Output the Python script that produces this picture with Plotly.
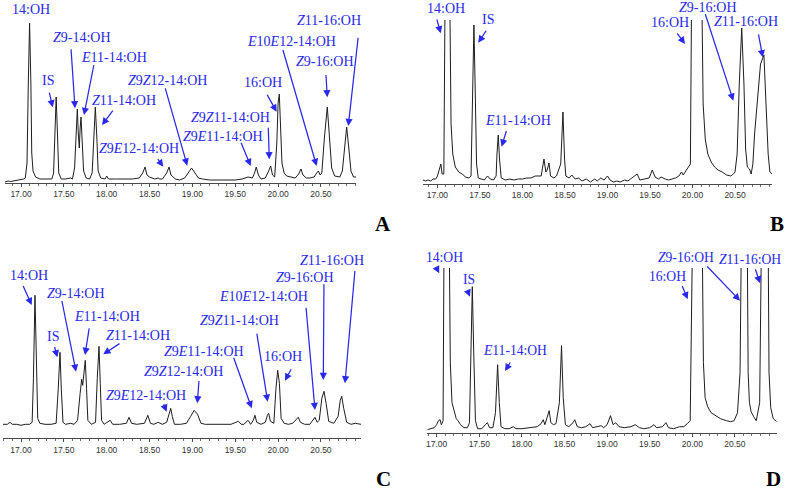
import plotly.graph_objects as go

W, H = 787, 490

# ---------------- data: chromatogram traces (retention time [min], detector signal) ----------------
a_trace = [
    (16.81, 1), (16.85, 2), (16.88, 1.5), (16.92, 2), (16.96, 3), (17.00, 3), (17.03, 4), (17.05, 5),
    (17.07, 20), (17.085, 100), (17.10, 160), (17.115, 100), (17.125, 30), (17.14, 12), (17.17, 6),
    (17.22, 4), (17.30, 4), (17.36, 4), (17.38, 10), (17.395, 60), (17.41, 86), (17.425, 50),
    (17.44, 10), (17.47, 4), (17.52, 4), (17.58, 5), (17.60, 4), (17.625, 15), (17.645, 60),
    (17.657, 74), (17.668, 50), (17.68, 35), (17.69, 55), (17.70, 66), (17.712, 45), (17.73, 12),
    (17.76, 5), (17.80, 4), (17.83, 10), (17.85, 55), (17.867, 76), (17.885, 45), (17.90, 12),
    (17.93, 5), (17.98, 4), (18.00, 7), (18.02, 4), (18.10, 4), (18.20, 4), (18.30, 4), (18.38, 5),
    (18.42, 10), (18.447, 16), (18.47, 8), (18.50, 6), (18.53, 5), (18.56, 4), (18.60, 5), (18.62, 4),
    (18.65, 4), (18.70, 10), (18.727, 16), (18.75, 8), (18.80, 4), (18.85, 3), (18.91, 5), (18.94, 9),
    (18.99, 15), (19.03, 10), (19.07, 5), (19.12, 4), (19.20, 3), (19.30, 3), (19.40, 3), (19.50, 3),
    (19.58, 4), (19.65, 6), (19.70, 5), (19.725, 10), (19.745, 16), (19.77, 8), (19.80, 4), (19.85, 5),
    (19.89, 12), (19.913, 17), (19.935, 8), (19.96, 6), (19.985, 40), (20.00, 80), (20.014, 89),
    (20.03, 55), (20.045, 20), (20.07, 10), (20.10, 7), (20.15, 6), (20.20, 5), (20.24, 9),
    (20.267, 14), (20.29, 8), (20.33, 5), (20.37, 5), (20.42, 6), (20.45, 10), (20.47, 12), (20.49, 8),
    (20.51, 10), (20.54, 45), (20.574, 76), (20.60, 45), (20.625, 15), (20.66, 7), (20.72, 6),
    (20.75, 12), (20.78, 40), (20.80, 56), (20.825, 35), (20.85, 12), (20.88, 6), (20.909, 6),
]

b_trace = [
    (16.83, 4), (16.86, 3), (16.89, 4), (16.92, 3), (16.95, 5), (16.98, 5), (17.00, 8), (17.025, 16),
    (17.04, 20), (17.055, 10), (17.075, 10), (17.088, 170), (17.117, 400), (17.147, 170), (17.16, 60),
    (17.18, 30), (17.21, 17), (17.25, 12), (17.29, 10), (17.33, 7), (17.37, 6), (17.395, 8),
    (17.41, 80), (17.429, 159), (17.445, 90), (17.46, 20), (17.48, 6), (17.52, 5), (17.55, 4),
    (17.59, 8), (17.62, 5), (17.66, 4), (17.69, 8), (17.70, 30), (17.715, 49), (17.73, 25),
    (17.75, 6), (17.80, 4), (17.85, 5), (17.90, 4), (17.95, 5), (18.00, 5), (18.05, 6), (18.10, 6),
    (18.15, 8), (18.22, 8), (18.253, 25), (18.275, 12), (18.29, 14), (18.312, 21), (18.33, 8),
    (18.37, 6), (18.40, 8), (18.45, 20), (18.476, 72), (18.495, 25), (18.51, 8), (18.55, 6),
    (18.58, 9), (18.62, 5), (18.66, 6), (18.70, 3), (18.75, 5), (18.80, 2), (18.85, 5), (18.88, 3),
    (18.92, 6), (18.96, 4), (19.00, 8), (19.03, 4), (19.07, 2), (19.11, 3), (19.15, 2), (19.20, 4),
    (19.24, 3), (19.27, 5), (19.35, 10), (19.38, 4), (19.42, 5), (19.49, 6), (19.527, 14),
    (19.56, 7), (19.60, 5), (19.63, 7), (19.68, 5), (19.72, 4), (19.76, 5), (19.80, 6), (19.84, 8),
    (19.87, 12), (19.89, 9), (19.975, 20), (19.99, 200), (20.05, 500), (20.108, 200), (20.125, 80),
    (20.15, 45), (20.18, 30), (20.22, 22), (20.26, 17), (20.30, 14), (20.35, 12), (20.40, 9),
    (20.45, 8), (20.48, 10), (20.50, 12), (20.525, 30), (20.55, 100), (20.579, 156), (20.605, 100),
    (20.625, 35), (20.645, 17), (20.67, 15), (20.69, 10), (20.71, 20), (20.73, 50), (20.77, 90),
    (20.80, 120), (20.84, 129), (20.865, 80), (20.89, 30), (20.91, 12), (20.935, 10),
]

c_trace = [
    (16.79, 14), (16.84, 14), (16.87, 16), (16.90, 14), (16.95, 14), (17.00, 13), (17.05, 14),
    (17.10, 14), (17.13, 16), (17.145, 60), (17.163, 143), (17.18, 70), (17.195, 20), (17.22, 15),
    (17.28, 14), (17.35, 14), (17.41, 15), (17.435, 50), (17.455, 86), (17.47, 50), (17.49, 16),
    (17.52, 14), (17.58, 15), (17.62, 14), (17.66, 18), (17.69, 45), (17.708, 59), (17.72, 53),
    (17.735, 70), (17.75, 78), (17.765, 50), (17.78, 18), (17.82, 14), (17.87, 16), (17.89, 60),
    (17.91, 92), (17.925, 55), (17.94, 18), (17.97, 14), (18.04, 18), (18.07, 14), (18.15, 14),
    (18.23, 15), (18.26, 21), (18.29, 15), (18.35, 14), (18.44, 15), (18.48, 23), (18.51, 15),
    (18.55, 14), (18.60, 16), (18.65, 14), (18.70, 16), (18.73, 26), (18.747, 30), (18.765, 22),
    (18.79, 14), (18.86, 14), (18.93, 15), (18.98, 22), (19.02, 28), (19.06, 24), (19.10, 15),
    (19.15, 14), (19.25, 14), (19.35, 14), (19.45, 14), (19.535, 17), (19.57, 14), (19.60, 14),
    (19.65, 18), (19.68, 14), (19.71, 18), (19.73, 23), (19.75, 16), (19.80, 14), (19.85, 16),
    (19.875, 23), (19.89, 25), (19.91, 17), (19.95, 15), (19.975, 50), (19.995, 68), (20.015, 55),
    (20.035, 20), (20.07, 15), (20.12, 14), (20.17, 15), (20.21, 19), (20.235, 21), (20.26, 16),
    (20.31, 14), (20.37, 14), (20.41, 19), (20.43, 21), (20.455, 16), (20.48, 18), (20.51, 40),
    (20.535, 47), (20.56, 35), (20.59, 17), (20.65, 15), (20.70, 22), (20.725, 38), (20.742, 42),
    (20.765, 30), (20.80, 16), (20.85, 14), (20.90, 15), (20.967, 14),
]

d_trace = [
    (16.89, 3), (16.93, 4), (16.97, 5), (17.00, 8), (17.02, 12), (17.04, 13), (17.055, 8),
    (17.075, 12), (17.09, 250), (17.117, 500), (17.145, 250), (17.16, 70), (17.18, 30), (17.21, 19),
    (17.23, 14), (17.25, 12), (17.28, 8), (17.32, 5), (17.36, 5), (17.385, 10), (17.40, 80),
    (17.418, 146), (17.435, 80), (17.455, 12), (17.48, 4), (17.53, 4), (17.57, 8), (17.595, 10),
    (17.62, 5), (17.66, 5), (17.69, 20), (17.715, 68), (17.735, 30), (17.755, 6), (17.80, 4),
    (17.85, 4), (17.90, 6), (17.93, 4), (18.00, 4), (18.10, 5), (18.18, 6), (18.225, 9), (18.25, 13),
    (18.27, 8), (18.30, 16), (18.32, 22), (18.34, 10), (18.37, 8), (18.40, 9), (18.44, 30),
    (18.465, 87), (18.485, 35), (18.51, 8), (18.55, 6), (18.60, 10), (18.62, 13), (18.65, 6),
    (18.70, 5), (18.75, 6), (18.80, 9), (18.83, 5), (18.88, 6), (18.93, 7), (18.96, 5), (19.00, 8),
    (19.04, 17), (19.07, 8), (19.10, 10), (19.14, 6), (19.20, 5), (19.28, 6), (19.33, 8), (19.38, 5),
    (19.43, 4), (19.50, 5), (19.55, 8), (19.58, 5), (19.65, 6), (19.69, 10), (19.72, 5), (19.78, 4),
    (19.85, 6), (19.90, 6), (19.94, 9), (19.975, 12), (20.01, 250), (20.06, 500), (20.11, 250),
    (20.13, 70), (20.15, 35), (20.18, 26), (20.22, 20), (20.27, 17), (20.33, 14), (20.40, 12),
    (20.45, 11), (20.49, 12), (20.53, 20), (20.56, 60), (20.58, 250), (20.61, 500), (20.64, 250),
    (20.655, 60), (20.67, 30), (20.69, 21), (20.72, 16), (20.75, 12), (20.79, 30), (20.82, 250),
    (20.85, 500), (20.885, 250), (20.90, 60), (20.92, 25), (20.95, 14), (20.99, 11),
]

tick_values = [17.0, 17.5, 18.0, 18.5, 19.0, 19.5, 20.0, 20.5]
tick_labels = ["17.00", "17.50", "18.00", "18.50", "19.00", "19.50", "20.00", "20.50"]

# ---------------- peak labels: (text, text pos, arrow tail, arrow head) in axis units ----------------
a_labels = [
    ("14:OH", 17.113, 173.7, None, None, None, None),
    ("IS", 17.312, 103, 17.327, 91.3, 17.37, 75.7),
    ("<i>Z</i>9-14:OH", 17.708, 145.7, 17.583, 134.7, 17.63, 74.7),
    ("<i>E</i>11-14:OH", 18.085, 125.7, 17.852, 119, 17.735, 68),
    ("<i>Z</i>11-14:OH", 18.202, 82.3, 18.077, 73, 17.945, 58),
    ("<i>Z</i>9<i>E</i>12-14:OH", 18.38, 34.7, 18.59, 24.7, 18.66, 16.3),
    ("<i>Z</i>9<i>Z</i>12-14:OH", 18.712, 102.3, 18.68, 95.7, 18.94, 17.3),
    ("<i>Z</i>9<i>Z</i>11-14:OH", 19.45, 65.3, 19.885, 56.3, 19.897, 23.7),
    ("<i>Z</i>9<i>E</i>11-14:OH", 19.353, 47, 19.563, 41.3, 19.68, 17),
    ("16:OH", 19.827, 100.3, 19.867, 89, 19.983, 71.3),
    ("<i>E</i>10<i>E</i>12-14:OH", 20.158, 141.3, 20.053, 134, 20.45, 17),
    ("<i>Z</i>9-16:OH", 20.547, 122, 20.558, 109, 20.574, 85.7),
    ("<i>Z</i>11-16:OH", 20.597, 163, 20.935, 146.3, 20.819, 57),
]
b_labels = [
    ("14:OH", 17.10, 175.7, 16.99, 165.7, 17.038, 150.7),
    ("IS", 17.598, 164.7, 17.579, 154, 17.48, 141.3),
    ("<i>E</i>11-14:OH", 17.951, 64, 17.814, 54, 17.755, 37.3),
    ("16:OH", 19.735, 161.3, 19.814, 151.3, 19.912, 140),
    ("<i>Z</i>9-16:OH", 20.186, 176.7, 20.147, 170.7, 20.48, 83.3),
    ("<i>Z</i>11-16:OH", 20.629, 162.3, 20.774, 150.7, 20.826, 126.7),
]
c_labels = [
    ("14:OH", 17.097, 163.3, 17.02, 153.3, 17.125, 133.3),
    ("IS", 17.37, 102.3, 17.389, 92.3, 17.424, 81),
    ("<i>Z</i>9-14:OH", 17.642, 145, 17.475, 138.3, 17.642, 66.6),
    ("<i>E</i>11-14:OH", 18.0, 121.6, 17.797, 111, 17.747, 83.3),
    ("<i>Z</i>11-14:OH", 18.369, 102.6, 18.155, 95, 17.96, 84),
    ("<i>Z</i>9<i>E</i>12-14:OH", 18.458, 43.3, 18.66, 35, 18.70, 26.6),
    ("<i>Z</i>9<i>Z</i>12-14:OH", 18.894, 66.6, 19.077, 58.3, 19.057, 35),
    ("<i>Z</i>9<i>E</i>11-14:OH", 19.135, 87.3, 19.477, 81.6, 19.692, 30),
    ("<i>Z</i>9<i>Z</i>11-14:OH", 19.547, 118.3, 19.75, 105.6, 19.878, 36.6),
    ("16:OH", 20.06, 81.6, 20.158, 70, 20.08, 57.6),
    ("<i>E</i>10<i>E</i>12-14:OH", 19.827, 141.6, 20.325, 131.6, 20.43, 28.3),
    ("<i>Z</i>9-16:OH", 20.314, 161, 20.535, 155, 20.527, 58.3),
    ("<i>Z</i>11-16:OH", 20.625, 178.3, 20.897, 168.3, 20.78, 55),
]
d_labels = [
    ("14:OH", 17.097, 175.4, 17.0, 164.4, 17.03, 159.4),
    ("IS", 17.383, 153.4, 17.359, 142.7, 17.391, 136),
    ("<i>E</i>11-14:OH", 17.919, 82.7, 17.869, 71, 17.802, 61.7),
    ("16:OH", 19.707, 156, 19.876, 147.7, 19.946, 133.4),
    ("<i>Z</i>9-16:OH", 19.925, 175.4, 20.169, 166.7, 20.56, 132),
    ("<i>Z</i>11-16:OH", 20.68, 173.4, 20.736, 164.4, 20.795, 149.4),
]

# ---------------- layout of the four panels (pixel boxes) ----------------
panels = [
    # name, trace, labels, x px left/right, y px bottom/top, time range, letter pos, label size
    ("A", a_trace, a_labels, (5, 356), (183, 15), (16.813, 20.909), (383, 224), 14),
    ("B", b_trace, b_labels, (423, 772), (184, 20), (16.83, 20.935), (777, 224), 14),
    ("C", c_trace, c_labels, (3, 361), (438.3, 262), (16.79, 20.967), (383, 479), 14),
    ("D", d_trace, d_labels, (427.3, 776.7), (432.7, 268), (16.89, 20.99), (773, 479), 13.6),
]

BLUE = "#2828ee"

fig = go.Figure()
annotations = []
layout = dict(
    width=W, height=H, margin=dict(l=0, r=0, t=0, b=0),
    paper_bgcolor="white", plot_bgcolor="white", showlegend=False,
)

for i, (name, trace, labels, (xl, xr), (yb, yt), trange, (lx, ly), fsize) in enumerate(panels):
    n = "" if i == 0 else str(i + 1)
    xa, ya = "x" + n, "y" + n
    ytop = yb - yt
    label_font = dict(family="Liberation Serif, Times New Roman, serif", size=fsize, color=BLUE)
    fig.add_trace(go.Scatter(
        x=[p[0] for p in trace], y=[p[1] for p in trace],
        mode="lines", line=dict(color="#1e1e1e", width=1),
        xaxis=xa, yaxis=ya, hoverinfo="skip",
    ))
    layout["xaxis" + n] = dict(
        domain=[xl / W, xr / W], range=list(trange), anchor=ya,
        showline=True, linecolor="#4a4a4a", linewidth=1, showgrid=False, zeroline=False,
        ticks="outside", ticklen=3, tickcolor="#4a4a4a", tickwidth=1,
        tickvals=tick_values, ticktext=tick_labels,
        tickfont=dict(family="Liberation Sans, Arial, sans-serif", size=8.5, color="#333333"),
        minor=dict(dtick=0.1, tick0=17.0, ticks="outside", ticklen=2, tickcolor="#6a6a6a", showgrid=False),
        fixedrange=True,
    )
    layout["yaxis" + n] = dict(
        domain=[1 - yb / H, 1 - yt / H], range=[0, ytop], anchor=xa,
        visible=False, fixedrange=True,
    )

    # axis units -> fraction of the subplot domain (lets labels sit above the clipped range)
    def fx(t, r=trange):
        return (t - r[0]) / (r[1] - r[0])

    def fy(h, top=ytop):
        return h / top

    xd, yd = xa + " domain", ya + " domain"
    for (txt, tx, ty, sx, sy, hx, hy) in labels:
        annotations.append(dict(
            text=txt, x=fx(tx), y=fy(ty), xref=xd, yref=yd, showarrow=False,
            xanchor="center", yanchor="middle", font=label_font,
        ))
        if sx is not None:
            annotations.append(dict(
                text=" ", x=fx(hx), y=fy(hy), xref=xd, yref=yd,
                ax=fx(sx), ay=fy(sy), axref=xd, ayref=yd,
                showarrow=True, arrowhead=2, arrowsize=1.15, arrowwidth=1.25, arrowcolor=BLUE,
                standoff=0, startstandoff=0, font=dict(size=1), borderpad=0,
            ))
    annotations.append(dict(
        text="<b>%s</b>" % name, x=lx / W, y=1 - ly / H, xref="paper", yref="paper",
        showarrow=False, xanchor="center", yanchor="middle",
        font=dict(family="Liberation Serif, Times New Roman, serif", size=21, color="black"),
    ))

layout["annotations"] = annotations
fig.update_layout(**layout)
fig.write_html("out.html", config={"displayModeBar": False},
               post_script="document.body.style.margin='0px';")
